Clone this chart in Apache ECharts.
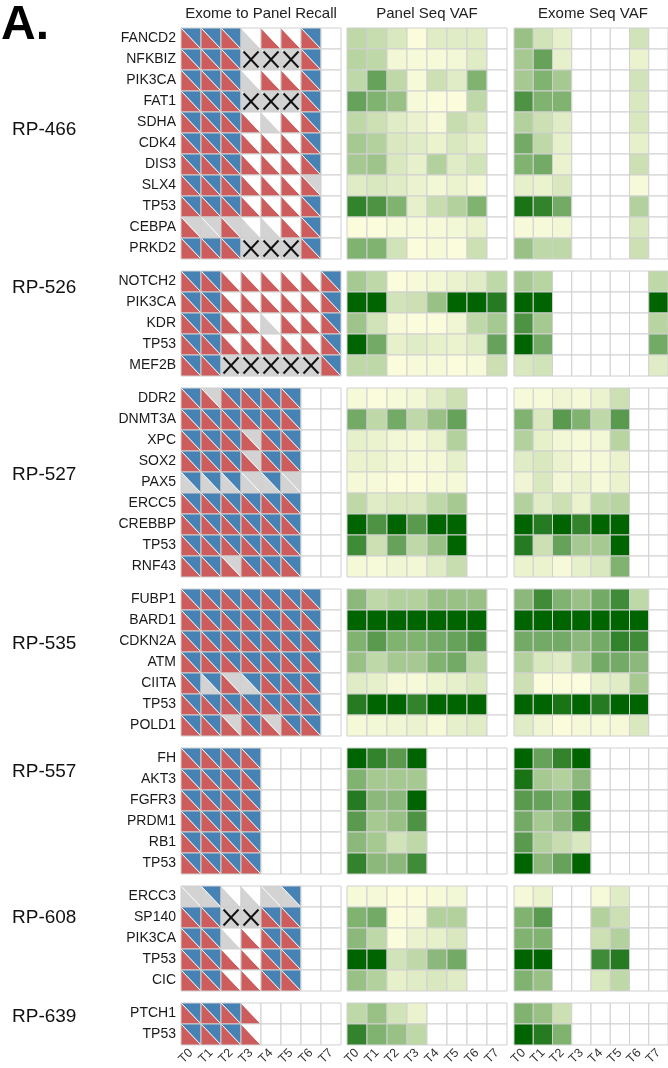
<!DOCTYPE html>
<html>
<head>
<meta charset="utf-8">
<script src="https://cdn.jsdelivr.net/npm/echarts@6/dist/echarts.min.js"></script>
<style>
  html, body { margin: 0; padding: 0; background: #fff; }
  #chart { width: 668px; height: 1068px; }
</style>
</head>
<body>
<div id="chart"></div>
<script>
// time points shared by every panel
const timepoints = ['T0', 'T1', 'T2', 'T3', 'T4', 'T5', 'T6', 'T7'];

// recall codes: first letter = lower-left (panel), second = upper-right (exome)
// R red, B blue, G grey, W white, XX = grey with cross, .. = empty cell
const rp466Genes = ['FANCD2', 'NFKBIZ', 'PIK3CA', 'FAT1', 'SDHA', 'CDK4', 'DIS3', 'SLX4', 'TP53', 'CEBPA', 'PRKD2'];
const rp466Recall = [
  'RB RB RB GW RW RW RB ..',
  'RB RB RB XX XX XX RB ..',
  'RB RB RB GW RW RW RB ..',
  'RB RB RB XX XX XX RB ..',
  'RB RB RB RW GW RW RB ..',
  'RB RB RB RW RW RW RB ..',
  'RB RB RB RW RW RW RB ..',
  'RB RB RB RW RW RW RG ..',
  'RB RB RB RW RW RW RB ..',
  'RG GG RG GW GW RW RB ..',
  'RB RB RB XX XX XX RB ..'
];
const rp466Panel = [
  [0.25, 0.22, 0.15, 0.02, 0.12, 0.12, 0.12, null],
  [0.28, 0.25, 0.05, 0.03, 0.03, 0.05, 0.12, null],
  [0.25, 0.6, 0.25, 0.03, 0.2, 0.12, 0.5, null],
  [0.6, 0.5, 0.4, 0.03, 0.02, 0.02, 0.25, null],
  [0.25, 0.2, 0.12, 0.08, 0.03, 0.22, 0.15, null],
  [0.35, 0.3, 0.15, 0.12, 0.08, 0.15, 0.1, null],
  [0.35, 0.38, 0.15, 0.1, 0.3, 0.12, 0.18, null],
  [0.12, 0.15, 0.12, 0.08, 0.05, 0.08, 0.04, null],
  [0.8, 0.7, 0.5, 0.1, 0.22, 0.3, 0.5, null],
  [0.02, 0.02, 0.03, 0.03, 0.03, 0.05, 0.08, null],
  [0.5, 0.5, 0.18, 0.02, 0.03, 0.02, 0.2, null]
];
const rp466Exome = [
  [0.4, 0.18, 0.1, null, null, null, 0.18, null],
  [0.35, 0.6, 0.1, null, null, null, 0.08, null],
  [0.35, 0.5, 0.35, null, null, null, 0.18, null],
  [0.7, 0.5, 0.5, null, null, null, 0.15, null],
  [0.3, 0.2, 0.12, null, null, null, 0.15, null],
  [0.55, 0.25, 0.1, null, null, null, 0.1, null],
  [0.5, 0.55, 0.08, null, null, null, 0.2, null],
  [0.1, 0.08, 0.15, null, null, null, 0.03, null],
  [0.9, 0.8, 0.55, null, null, null, 0.3, null],
  [0.03, 0.03, 0.05, null, null, null, 0.15, null],
  [0.4, 0.25, 0.25, null, null, null, 0.2, null]
];

const rp526Genes = ['NOTCH2', 'PIK3CA', 'KDR', 'TP53', 'MEF2B'];
const rp526Recall = [
  'RB RB RW RW RW RW RW RB',
  'RB RB RW RW RW RW RW RB',
  'RB RB RW RW GW RW RW RB',
  'RB RB RW RW RW RW RW RB',
  'RB RB XX XX XX XX XX RB'
];
const rp526Panel = [
  [0.35, 0.25, 0.02, 0.03, 0.05, 0.08, 0.12, 0.25],
  [1, 1, 0.18, 0.2, 0.4, 1, 1, 0.85],
  [0.38, 0.18, 0.03, 0.02, 0.02, 0.06, 0.25, 0.35],
  [1, 0.55, 0.1, 0.12, 0.1, 0.08, 0.12, 0.6],
  [0.25, 0.25, 0.02, 0.03, 0.03, 0.02, 0.03, 0.2]
];
const rp526Exome = [
  [0.35, 0.28, null, null, null, null, null, 0.25],
  [1, 1, null, null, null, null, null, 1],
  [0.7, 0.35, null, null, null, null, null, 0.28],
  [1, 0.55, null, null, null, null, null, 0.55],
  [0.15, 0.18, null, null, null, null, null, 0.12]
];

const rp527Genes = ['DDR2', 'DNMT3A', 'XPC', 'SOX2', 'PAX5', 'ERCC5', 'CREBBP', 'TP53', 'RNF43'];
const rp527Recall = [
  'RB RG RB RB RB RB .. ..',
  'RB RB RB RB RB RB .. ..',
  'RB RB RB RG RB RB .. ..',
  'RB RB RB RG RB RB .. ..',
  'GB GB GB GG GB GG .. ..',
  'RB RB RB RB RB RB .. ..',
  'RB RB RB RB RB RB .. ..',
  'RB RB RB RB RB RB .. ..',
  'RB RB RG RB RB RB .. ..'
];
const rp527Panel = [
  [0.03, 0.02, 0.03, 0.05, 0.12, 0.2, null, null],
  [0.55, 0.25, 0.55, 0.25, 0.4, 0.6, null, null],
  [0.1, 0.08, 0.05, 0.04, 0.08, 0.3, null, null],
  [0.08, 0.08, 0.05, 0.03, 0.04, 0.1, null, null],
  [0.04, 0.03, 0.02, 0.02, 0.03, 0.04, null, null],
  [0.25, 0.12, 0.15, 0.15, 0.25, 0.35, null, null],
  [1, 0.7, 1, 0.65, 1, 1, null, null],
  [0.75, 0.2, 0.6, 0.25, 0.4, 1, null, null],
  [0.04, 0.03, 0.06, 0.05, 0.12, 0.22, null, null]
];
const rp527Exome = [
  [0.03, 0.03, 0.06, 0.04, 0.08, 0.2, null, null],
  [0.5, 0.15, 0.65, 0.5, 0.25, 0.65, null, null],
  [0.3, 0.1, 0.05, 0.03, 0.05, 0.28, null, null],
  [0.12, 0.15, 0.08, 0.03, 0.04, 0.08, null, null],
  [0.06, 0.15, 0.05, 0.08, 0.04, 0.08, null, null],
  [0.3, 0.12, 0.2, 0.08, 0.25, 0.28, null, null],
  [1, 0.85, 1, 0.8, 1, 1, null, null],
  [0.85, 0.2, 0.6, 0.35, 0.35, 1, null, null],
  [0.08, 0.08, 0.03, 0.1, 0.15, 0.5, null, null]
];

const rp535Genes = ['FUBP1', 'BARD1', 'CDKN2A', 'ATM', 'CIITA', 'TP53', 'POLD1'];
const rp535Recall = [
  'RB RB RB RB RB RB RB ..',
  'RB RB RB RB RB RB RB ..',
  'RB RB RB RB RB RB RB ..',
  'RB RB RB RB RB RB RB ..',
  'RB GB RG GB RB RB RB ..',
  'RB RB RB RB RB RB RB ..',
  'RB RB RG RB RG RB RB ..'
];
const rp535Panel = [
  [0.45, 0.25, 0.3, 0.3, 0.4, 0.4, 0.4, null],
  [1, 1, 1, 1, 1, 1, 1, null],
  [0.5, 0.65, 0.5, 0.5, 0.55, 0.6, 0.7, null],
  [0.4, 0.25, 0.35, 0.35, 0.5, 0.55, 0.25, null],
  [0.12, 0.1, 0.04, 0.03, 0.07, 0.1, 0.15, null],
  [0.85, 1, 1, 0.8, 1, 1, 1, null],
  [0.04, 0.05, 0.06, 0.08, 0.03, 0.1, 0.12, null]
];
const rp535Exome = [
  [0.45, 0.75, 0.5, 0.4, 0.55, 0.75, 0.25, null],
  [1, 1, 1, 1, 1, 1, 1, null],
  [0.55, 0.55, 0.55, 0.45, 0.55, 0.8, 0.75, null],
  [0.3, 0.15, 0.12, 0.3, 0.55, 0.55, 0.45, null],
  [0.2, 0.02, 0.02, 0.01, 0.1, 0.12, 0.35, null],
  [1, 1, 0.9, 1, 0.85, 1, 1, null],
  [0.12, 0.06, 0.02, 0.04, 0.03, 0.04, 0.15, null]
];

const rp557Genes = ['FH', 'AKT3', 'FGFR3', 'PRDM1', 'RB1', 'TP53'];
const rp557Recall = [
  'RB RB RB RB .. .. .. ..',
  'RB RB RB RB .. .. .. ..',
  'RB RB RB RB .. .. .. ..',
  'RB RB RB RB .. .. .. ..',
  'RB RB RB RB .. .. .. ..',
  'RB RB RB RB .. .. .. ..'
];
const rp557Panel = [
  [1, 0.8, 0.65, 1, null, null, null, null],
  [0.5, 0.35, 0.35, 0.35, null, null, null, null],
  [0.85, 0.45, 0.45, 1, null, null, null, null],
  [0.65, 0.35, 0.4, 0.7, null, null, null, null],
  [0.45, 0.35, 0.18, 0.25, null, null, null, null],
  [0.8, 0.45, 0.45, 0.75, null, null, null, null]
];
const rp557Exome = [
  [1, 0.6, 0.8, 1, null, null, null, null],
  [0.9, 0.35, 0.3, 0.45, null, null, null, null],
  [0.65, 0.6, 0.5, 0.85, null, null, null, null],
  [0.55, 0.35, 0.45, 0.8, null, null, null, null],
  [0.65, 0.3, 0.22, 0.15, null, null, null, null],
  [1, 0.45, 0.6, 1, null, null, null, null]
];

const rp608Genes = ['ERCC3', 'SP140', 'PIK3CA', 'TP53', 'CIC'];
const rp608Recall = [
  'GG GB GW GW GG GB .. ..',
  'RB RB XX XX RB RB .. ..',
  'RB RB GW RW RB RB .. ..',
  'RB RB RW RW RB RB .. ..',
  'RB RB RW RW RB RB .. ..'
];
const rp608Panel = [
  [0.03, 0.04, 0.02, 0.02, 0.03, 0.05, null, null],
  [0.5, 0.55, 0.02, 0.03, 0.3, 0.3, null, null],
  [0.45, 0.25, 0.02, 0.08, 0.1, 0.15, null, null],
  [1, 1, 0.18, 0.25, 0.45, 0.55, null, null],
  [0.4, 0.3, 0.1, 0.12, 0.15, 0.12, null, null]
];
const rp608Exome = [
  [0.04, 0.08, null, null, 0.03, 0.12, null, null],
  [0.5, 0.65, null, null, 0.3, 0.2, null, null],
  [0.5, 0.5, null, null, 0.2, 0.3, null, null],
  [1, 1, null, null, 0.75, 0.85, null, null],
  [0.5, 0.4, null, null, 0.15, 0.25, null, null]
];

const rp639Genes = ['PTCH1', 'TP53'];
const rp639Recall = [
  'RB RB RB RW .. .. .. ..',
  'RB RB RB RW .. .. .. ..'
];
const rp639Panel = [
  [0.25, 0.4, 0.18, 0.08, null, null, null, null],
  [0.8, 0.5, 0.4, 0.25, null, null, null, null]
];
const rp639Exome = [
  [0.5, 0.4, 0.2, null, null, null, null, null],
  [1, 0.85, 0.5, null, null, null, null, null]
];

const blocks = [
  { name: 'RP-466', genes: rp466Genes, recall: rp466Recall, panel: rp466Panel, exome: rp466Exome },
  { name: 'RP-526', genes: rp526Genes, recall: rp526Recall, panel: rp526Panel, exome: rp526Exome },
  { name: 'RP-527', genes: rp527Genes, recall: rp527Recall, panel: rp527Panel, exome: rp527Exome },
  { name: 'RP-535', genes: rp535Genes, recall: rp535Recall, panel: rp535Panel, exome: rp535Exome },
  { name: 'RP-557', genes: rp557Genes, recall: rp557Recall, panel: rp557Panel, exome: rp557Exome },
  { name: 'RP-608', genes: rp608Genes, recall: rp608Recall, panel: rp608Panel, exome: rp608Exome },
  { name: 'RP-639', genes: rp639Genes, recall: rp639Recall, panel: rp639Panel, exome: rp639Exome }
];

// layout
const FONT = "'Liberation Sans', Arial, sans-serif";
const ROW_H = 21;
const GAP_H = 12;
const TOP = 28;
const PANEL_LEFT = [181, 347, 514];
const PANEL_W = 160;
const SAMPLE_LABEL_Y = [131, 289, 476, 645, 773, 919, 1018];

const halfColor = { R: '#CD5C5C', B: '#4682B4', G: '#D3D3D3', W: '#FFFFFF' };
const borderColor = '#D0D0D0';

function cellBox(api) {
  const c = api.coord([api.value(0), api.value(1)]);
  const s = api.size([1, 1]);
  return { x0: c[0] - s[0] / 2, x1: c[0] + s[0] / 2, y0: c[1] - s[1] / 2, y1: c[1] + s[1] / 2 };
}

function recallRenderer(codes) {
  return function (params, api) {
    const code = codes[params.dataIndex];
    const b = cellBox(api);
    const children = [];
    if (code === '..') {
      children.push({ type: 'rect', shape: { x: b.x0, y: b.y0, width: b.x1 - b.x0, height: b.y1 - b.y0 },
        style: { fill: '#fff', stroke: borderColor, lineWidth: 1 } });
      return { type: 'group', children };
    }
    const cross = code === 'XX';
    const lower = cross ? 'G' : code[0];
    const upper = cross ? 'G' : code[1];
    children.push({ type: 'polygon', shape: { points: [[b.x0, b.y0], [b.x0, b.y1], [b.x1, b.y1]] },
      style: { fill: halfColor[lower] } });
    children.push({ type: 'polygon', shape: { points: [[b.x0, b.y0], [b.x1, b.y0], [b.x1, b.y1]] },
      style: { fill: halfColor[upper] } });
    children.push({ type: 'line', shape: { x1: b.x0, y1: b.y0, x2: b.x1, y2: b.y1 },
      style: { stroke: '#fff', lineWidth: 1 } });
    children.push({ type: 'rect', shape: { x: b.x0, y: b.y0, width: b.x1 - b.x0, height: b.y1 - b.y0 },
      style: { fill: 'none', stroke: borderColor, lineWidth: 1 } });
    if (cross) {
      const p = 2.5;
      children.push({ type: 'line', shape: { x1: b.x0 + p, y1: b.y0 + p, x2: b.x1 - p, y2: b.y1 - p },
        style: { stroke: '#111', lineWidth: 2 } });
      children.push({ type: 'line', shape: { x1: b.x1 - p, y1: b.y0 + p, x2: b.x0 + p, y2: b.y1 - p },
        style: { stroke: '#111', lineWidth: 2 } });
    }
    return { type: 'group', children };
  };
}

function heatRenderer(vals) {
  return function (params, api) {
    const v = vals[params.dataIndex];
    const b = cellBox(api);
    const fill = v == null ? '#FFFFFF' : echarts.color.lerp(Math.min(1, v), ['#FFFFE0', '#006400']);
    return { type: 'rect', shape: { x: b.x0, y: b.y0, width: b.x1 - b.x0, height: b.y1 - b.y0 },
      style: { fill, stroke: borderColor, lineWidth: 1 } };
  };
}

const grids = [];
const xAxes = [];
const yAxes = [];
const series = [];
const graphics = [];

let y = TOP;
blocks.forEach((blk, bi) => {
  const h = blk.genes.length * ROW_H;
  const isLast = bi === blocks.length - 1;
  PANEL_LEFT.forEach((left, pi) => {
    const gi = grids.length;
    grids.push({ left, top: y, width: PANEL_W, height: h });
    xAxes.push({
      type: 'category', gridIndex: gi, data: timepoints,
      axisLine: { show: false }, axisTick: { show: false }, splitLine: { show: false },
      axisLabel: { show: isLast, rotate: 45, fontSize: 12.5, color: '#333', margin: 6, fontFamily: FONT, interval: 0 }
    });
    yAxes.push({
      type: 'category', gridIndex: gi, data: blk.genes, inverse: true,
      axisLine: { show: false }, axisTick: { show: false }, splitLine: { show: false },
      axisLabel: { show: pi === 0, fontSize: 14, color: '#1a1a1a', margin: 5, fontFamily: FONT, interval: 0 }
    });
    const data = [];
    const codes = [];
    const vals = [];
    blk.genes.forEach((g, ri) => {
      const recallRow = blk.recall[ri].split(' ');
      timepoints.forEach((t, ci) => {
        data.push([ci, ri]);
        codes.push(recallRow[ci]);
        vals.push(pi === 1 ? blk.panel[ri][ci] : blk.exome[ri][ci]);
      });
    });
    series.push({
      type: 'custom', xAxisIndex: gi, yAxisIndex: gi, data, silent: true,
      renderItem: pi === 0 ? recallRenderer(codes) : heatRenderer(vals)
    });
  });
  graphics.push({ type: 'text', left: 12, top: SAMPLE_LABEL_Y[bi] - 11,
    style: { text: blk.name, fontSize: 19, fontFamily: FONT, fill: '#111' } });
  y += h + GAP_H;
});

graphics.push({ type: 'text', left: 1, top: 2,
  style: { text: 'A.', fontSize: 48, fontWeight: 'bold', fontFamily: FONT, fill: '#000' } });
const titles = [['Exome to Panel Recall', 261], ['Panel Seq VAF', 427], ['Exome Seq VAF', 593]];
titles.forEach(([txt, cx]) => {
  graphics.push({ type: 'text', x: cx, y: 14,
    style: { text: txt, fontSize: 15, fontFamily: FONT, fill: '#222', align: 'center', verticalAlign: 'middle' } });
});

const chart = echarts.init(document.getElementById('chart'));
chart.setOption({
  animation: false,
  backgroundColor: '#fff',
  textStyle: { fontFamily: FONT },
  grid: grids,
  xAxis: xAxes,
  yAxis: yAxes,
  series,
  graphic: graphics
});
</script>
</body>
</html>
